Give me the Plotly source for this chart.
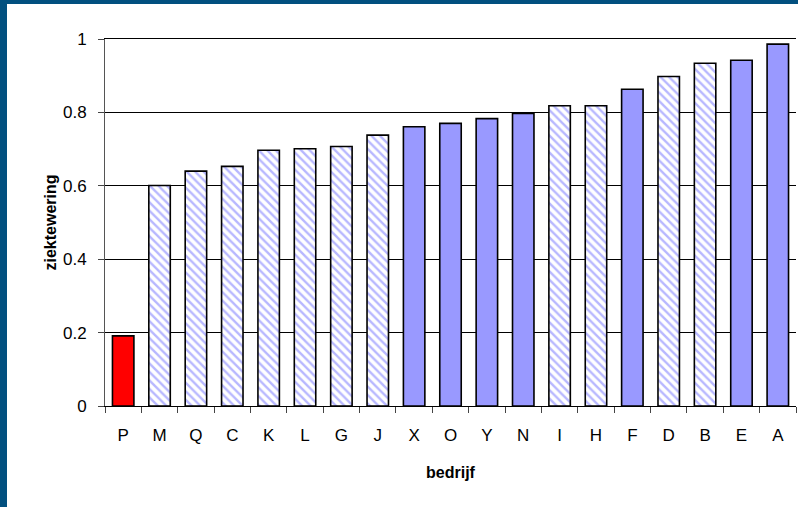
import plotly.graph_objects as go

# Disease resistance per company, sorted ascending
bedrijven = ["P", "M", "Q", "C", "K", "L", "G", "J", "X", "O", "Y", "N",
             "I", "H", "F", "D", "B", "E", "A"]
ziektewering = [0.191, 0.601, 0.640, 0.653, 0.697, 0.701, 0.707, 0.738,
                0.761, 0.770, 0.783, 0.797, 0.818, 0.818, 0.863, 0.898,
                0.934, 0.942, 0.986]
# group per company: "ref" = reference, "gestreept" = hatched, "vol" = solid
groep = ["ref", "gestreept", "gestreept", "gestreept", "gestreept", "gestreept",
         "gestreept", "gestreept", "vol", "vol", "vol", "vol", "gestreept",
         "gestreept", "vol", "gestreept", "gestreept", "vol", "vol"]
y_ticks = [0, 0.2, 0.4, 0.6, 0.8, 1]
y_tick_labels = ["0", "0.2", "0.4", "0.6", "0.8", "1"]

BLAUW = "#9999FF"
ROOD = "#FF0000"
FONT = "Liberation Sans, Arial, sans-serif"
FRAME = "#02507F"


def subset(naam):
    xs = [b for b, g in zip(bedrijven, groep) if g == naam]
    ys = [v for v, g in zip(ziektewering, groep) if g == naam]
    return xs, ys


fig = go.Figure()

for naam, kleur in (("ref", ROOD), ("vol", BLAUW)):
    xs, ys = subset(naam)
    fig.add_trace(go.Bar(
        x=xs, y=ys, name=naam,
        marker=dict(color=kleur, line=dict(color="#000000", width=1.6)),
        hoverinfo="x+y",
    ))

xs, ys = subset("gestreept")
fig.add_trace(go.Bar(
    x=xs, y=ys, name="gestreept",
    marker=dict(
        color=BLAUW,
        line=dict(color="#000000", width=1.6),
        pattern=dict(shape="\\", fillmode="replace", fgcolor=BLAUW,
                     bgcolor="#FFFFFF", fgopacity=0.7, size=6, solidity=0.4),
    ),
    hoverinfo="x+y",
))

# plot area: 105..796 px horizontally, 39..406 px vertically
L, R, T, B = 105, 2, 39, 101
W, H = 798, 507
pw, ph = W - L - R, H - T - B


def px_x(x):
    return (x - L) / pw


def px_y(y):
    return (H - B - y) / ph


fig.update_layout(
    width=W,
    height=H,
    margin=dict(l=L, r=R, t=T, b=B, pad=0),
    paper_bgcolor="#FFFFFF",
    plot_bgcolor="#FFFFFF",
    showlegend=False,
    barmode="overlay",
    bargap=0.41,
    font=dict(family=FONT, size=16, color="#000000"),
    xaxis=dict(
        type="category",
        categoryorder="array",
        categoryarray=bedrijven,
        range=[-0.5, len(bedrijven) - 0.5],
        showline=True,
        linecolor="#000000",
        linewidth=1,
        mirror=True,
        ticks="outside",
        tickson="boundaries",
        ticklen=6,
        tickcolor="#444444",
        showgrid=False,
        ticklabelstandoff=14,
        tickfont=dict(family=FONT, size=17),
        title=dict(text="<b>bedrijf</b>", font=dict(family=FONT, size=16),
                   standoff=22),
    ),
    yaxis=dict(
        range=[0, 1],
        tickvals=y_ticks,
        ticktext=y_tick_labels,
        showline=True,
        linecolor="#555555",
        linewidth=1,
        ticks="outside",
        ticklen=6,
        tickcolor="#444444",
        showgrid=True,
        gridcolor="#000000",
        gridwidth=1,
        zeroline=False,
        ticklabelstandoff=8,
        tickfont=dict(family=FONT, size=17),
        title=dict(text="<b>ziektewering</b>", font=dict(family=FONT, size=16),
                   standoff=2),
    ),
    shapes=[
        # dark frame: top band and left band
        dict(type="rect", xref="paper", yref="paper", layer="above",
             x0=px_x(0), x1=px_x(W), y0=px_y(4), y1=px_y(0),
             fillcolor=FRAME, line=dict(width=0)),
        dict(type="rect", xref="paper", yref="paper", layer="above",
             x0=px_x(0), x1=px_x(7), y0=px_y(H), y1=px_y(0),
             fillcolor=FRAME, line=dict(width=0)),
    ],
)

fig.write_html("out.html")
